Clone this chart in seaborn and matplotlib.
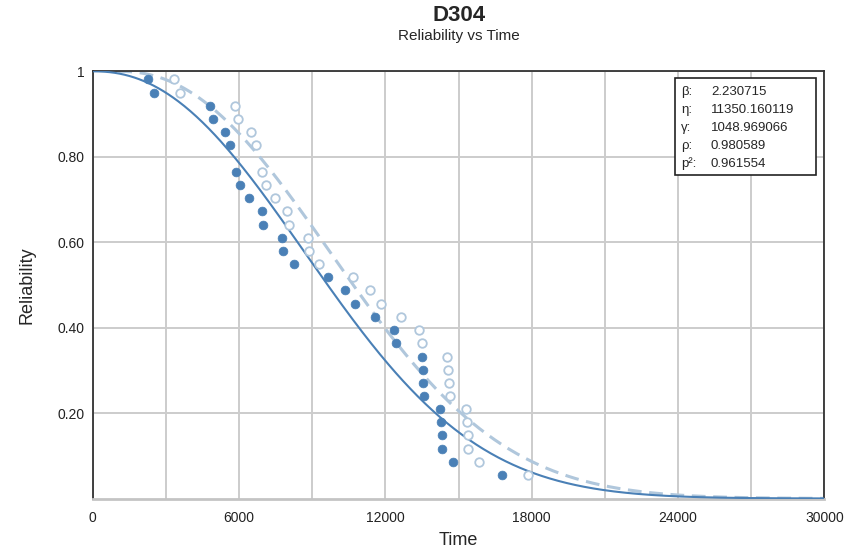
import matplotlib

matplotlib.use("Agg")

import matplotlib.pyplot as plt
import numpy as np
import pandas as pd
import seaborn as sns

# Weibull fit shown in the box (beta, eta, gamma, rho, rho^2)
BETA = 2.230715
ETA = 11350.160119
GAMMA = 1048.969066
RHO = 0.980589
RHO_SQ = 0.961554

# failure times minus gamma (filled points)
adjusted_times = [2280, 2510, 4800, 4920, 5420, 5630, 5875, 6050, 6410, 6930,
                  6990, 7770, 7810, 8240, 9635, 10335, 10765, 11585, 12340, 12435,
                  13480, 13530, 13555, 13595, 14250, 14290, 14320, 14330, 14785, 16790]
# original failure times (hollow points)
raw_times = [3330, 3560, 5845, 5970, 6475, 6680, 6925, 7100, 7455, 7980,
             8040, 8820, 8860, 9290, 10685, 11385, 11815, 12635, 13390, 13485,
             14530, 14575, 14600, 14645, 15300, 15340, 15370, 15380, 15830, 17840]
# plotted reliability (median ranks) of each point
reliability = [0.981, 0.950, 0.919, 0.888, 0.858, 0.827, 0.765, 0.734, 0.703, 0.672,
               0.641, 0.610, 0.580, 0.549, 0.518, 0.487, 0.456, 0.426, 0.394, 0.363,
               0.332, 0.301, 0.271, 0.240, 0.210, 0.178, 0.148, 0.117, 0.085, 0.055]

x_ticks = [0, 6000, 12000, 18000, 24000, 30000]
y_ticks = [0.2, 0.4, 0.6, 0.8, 1.0]
y_tick_labels = ["0.20", "0.40", "0.60", "0.80", "1"]

DARK_BLUE = "#4a80b6"
LIGHT_BLUE = "#b0c7dc"

sns.set_style("white")
plt.rcParams["font.family"] = ["Liberation Sans", "DejaVu Sans"]

points = pd.DataFrame({"adjusted": adjusted_times, "raw": raw_times, "R": reliability})

t = np.linspace(0, 30000, 600)
t_shift = t[t >= GAMMA]
curves = pd.DataFrame({"t": t, "R": np.exp(-(t / ETA) ** BETA)})
curves_shift = pd.DataFrame({"t": t_shift, "R": np.exp(-((t_shift - GAMMA) / ETA) ** BETA)})

fig = plt.figure(figsize=(8.45, 5.55), dpi=100)
ax = fig.add_axes([0.1097, 0.1018, 0.8660, 0.7697])

ax.set_xticks(np.arange(0, 30001, 3000), minor=True)
ax.grid(which="minor", axis="x", color="#cccccc", linewidth=1.4)
ax.grid(which="major", axis="both", color="#cccccc", linewidth=1.4)
ax.set_axisbelow(True)

sns.lineplot(data=curves_shift, x="t", y="R", ax=ax, color=LIGHT_BLUE, linewidth=2.2,
             zorder=2)
ax.lines[-1].set_dashes((4.5, 2.5))
sns.lineplot(data=curves, x="t", y="R", ax=ax, color=DARK_BLUE, linewidth=1.5, zorder=3)
sns.scatterplot(data=points, x="raw", y="R", ax=ax, s=38, facecolor="white",
                edgecolor=LIGHT_BLUE, linewidth=1.3, zorder=4)
sns.scatterplot(data=points, x="adjusted", y="R", ax=ax, s=40, color=DARK_BLUE,
                edgecolor=DARK_BLUE, linewidth=0.5, zorder=5)

ax.set_xlim(0, 30000)
ax.set_ylim(0, 1)
ax.set_xticks(x_ticks)
ax.set_xticklabels([str(v) for v in x_ticks])
ax.set_yticks(y_ticks)
ax.set_yticklabels(y_tick_labels)
ax.tick_params(axis="both", which="both", length=0, labelsize=10, labelcolor="#222222")
ax.tick_params(axis="x", pad=9)
ax.tick_params(axis="y", pad=6)

for side in ["top", "left", "right"]:
    ax.spines[side].set_color("#333333")
    ax.spines[side].set_linewidth(1.3)
ax.spines["bottom"].set_color("#c4c4c4")
ax.spines["bottom"].set_linewidth(2)

ax.set_xlabel("Time", fontsize=13, labelpad=5)
ax.set_ylabel("Reliability", fontsize=13, labelpad=16)

cx = (0.1097 + 0.9757) / 2
fig.text(cx, 0.972, "D304", ha="center", va="center", fontsize=16, fontweight="bold")
fig.text(cx, 0.935, "Reliability vs Time", ha="center", va="center", fontsize=11)

# parameter box
box = plt.Rectangle((0.7988, 0.685), 0.1669, 0.1748, transform=fig.transFigure,
                    facecolor="white", edgecolor="#222222", linewidth=1.2, zorder=6)
fig.add_artist(box)
labels = ["β:", "η:", "γ:", "ρ:", "p²:"]
values = [f"{BETA:.6f}", f"{ETA:.6f}", f"{GAMMA:.6f}", f"{RHO:.6f}", f"{RHO_SQ:.6f}"]
for i, (lab, val) in enumerate(zip(labels, values)):
    y = 1 - (92 + 18 * i) / 555
    fig.text(681 / 845, y, lab, ha="left", va="center", fontsize=9.5, zorder=7)
    fig.text(711 / 845, y, val, ha="left", va="center", fontsize=9.5, zorder=7)

fig.savefig("out.png", dpi=100)
